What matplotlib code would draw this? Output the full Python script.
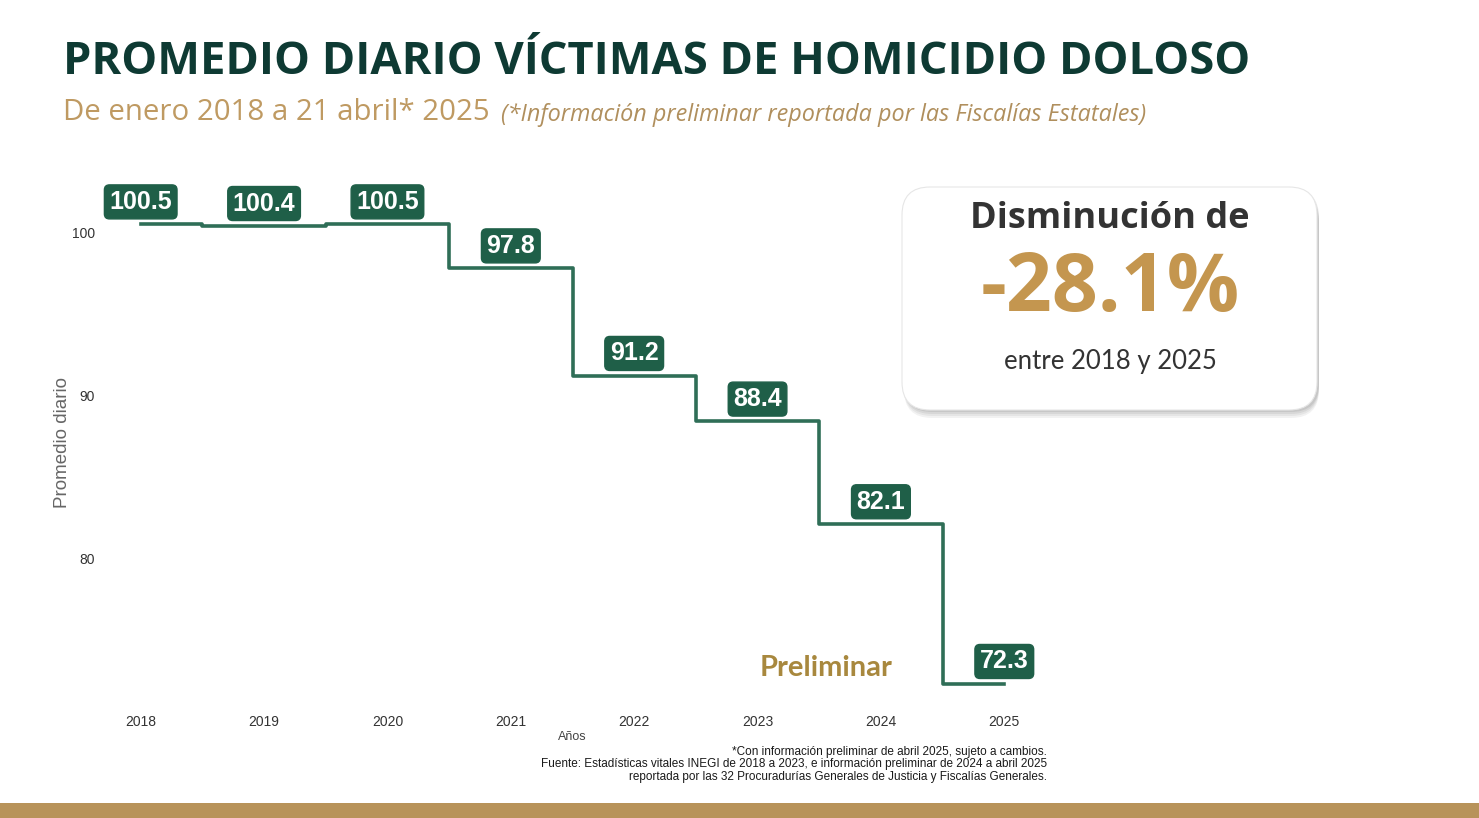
import matplotlib
matplotlib.use("Agg")
import matplotlib.pyplot as plt
from matplotlib.patches import FancyBboxPatch, Rectangle

years = [2018, 2019, 2020, 2021, 2022, 2023, 2024, 2025]
promedio = [100.5, 100.4, 100.5, 97.8, 91.2, 88.4, 82.1, 72.3]
y_ticks = [80, 90, 100]

titulo = "PROMEDIO DIARIO VÍCTIMAS DE HOMICIDIO DOLOSO"
subtitulo = "De enero 2018 a 21 abril* 2025"
nota_sub = "(*Información preliminar reportada por las Fiscalías Estatales)"
fuente = ("*Con información preliminar de abril 2025, sujeto a cambios.\n"
          "Fuente: Estadísticas vitales INEGI de 2018 a 2023, e información preliminar de 2024 a abril 2025\n"
          "reportada por las 32 Procuradurías Generales de Justicia y Fiscalías Generales.")

verde = "#1f5f48"
linea = "#2f6e57"
oro = "#c0965a"
W, H = 1479, 818

fig = plt.figure(figsize=(W / 100, H / 100), dpi=100)
fig.patch.set_facecolor("white")

# pixel overlay for decoration
bg = fig.add_axes([0, 0, 1, 1])
bg.set_xlim(0, W)
bg.set_ylim(H, 0)
bg.axis("off")

bg.text(63, 63, titulo, fontsize=32.6, fontweight="bold", color="#0e3a33",
        family="Open Sans", va="center", ha="left")
bg.text(63, 112, subtitulo, fontsize=21.2, color="#bf9a62", family="Open Sans",
        va="center", ha="left")
bg.text(501, 115, nota_sub, fontsize=16.8, color="#b08f5d", family="Open Sans",
        style="italic", va="center", ha="left")

# callout box with soft shadow
for i, a in enumerate([0.05, 0.05, 0.06, 0.07]):
    off = 8 - i * 2
    sh = FancyBboxPatch((902 + 2, 187 + off), 415, 223,
                        boxstyle="round,pad=0,rounding_size=28",
                        fc="#000000", ec="none", alpha=a)
    bg.add_patch(sh)
box = FancyBboxPatch((902, 187), 415, 223, boxstyle="round,pad=0,rounding_size=28",
                     fc="white", ec="#e6e6e6", lw=0.8)
bg.add_patch(box)
bg.text(1110, 219, "Disminución de", fontsize=26, fontweight="bold", color="#333333",
        family="Open Sans", ha="center", va="center")
bg.text(1110, 290, "-28.1%", fontsize=58, fontweight="bold", color="#c4964f",
        family="Open Sans", ha="center", va="center")
bg.text(1110, 361, "entre 2018 y 2025", fontsize=18.5, color="#333333",
        family="Lato", ha="center", va="center")

bg.text(826, 668, "Preliminar", fontsize=21, fontweight="bold", color="#a8883e",
        family="Lato", ha="center", va="center")

bg.text(1047, 764.5, fuente, fontsize=8.5, color="#1a1a1a", family="Liberation Sans",
        ha="right", va="center", linespacing=1.1)

bg.add_patch(Rectangle((0, 803), W, 15, fc="#b8935a", ec="none"))

# main chart
ax = fig.add_axes([100 / W, (H - 700) / H, (1045 - 100) / W, (700 - 185) / H])
ax.patch.set_alpha(0)
ax.plot(years, promedio, drawstyle="steps-mid", color=linea, lw=2.6)
ax.set_xlim(2017.67, 2025.33)
ax.set_ylim(71.3, 102.9)
ax.set_xticks(years)
ax.set_yticks(y_ticks)
ax.tick_params(length=0, labelsize=10, colors="#333333")
ax.tick_params(axis="x", pad=11)
for lab in ax.get_xticklabels() + ax.get_yticklabels():
    lab.set_family("Liberation Sans")
for s in ax.spines.values():
    s.set_visible(False)
ax.set_xlabel("Años", fontsize=9, color="#444444", family="Liberation Sans", labelpad=1.5)
ax.set_ylabel("Promedio diario", fontsize=13.5, color="#666666", family="Liberation Sans",
              labelpad=1)

for x, v in zip(years, promedio):
    ax.annotate(f"{v:.1f}", (x, v), xytext=(0, 16), textcoords="offset points",
                ha="center", va="center", fontsize=18, fontweight="bold", color="white",
                family="Liberation Sans",
                bbox=dict(boxstyle="round,pad=0.2,rounding_size=0.2", fc=verde, ec=verde))

fig.savefig("out.png", dpi=100, facecolor=fig.get_facecolor())
